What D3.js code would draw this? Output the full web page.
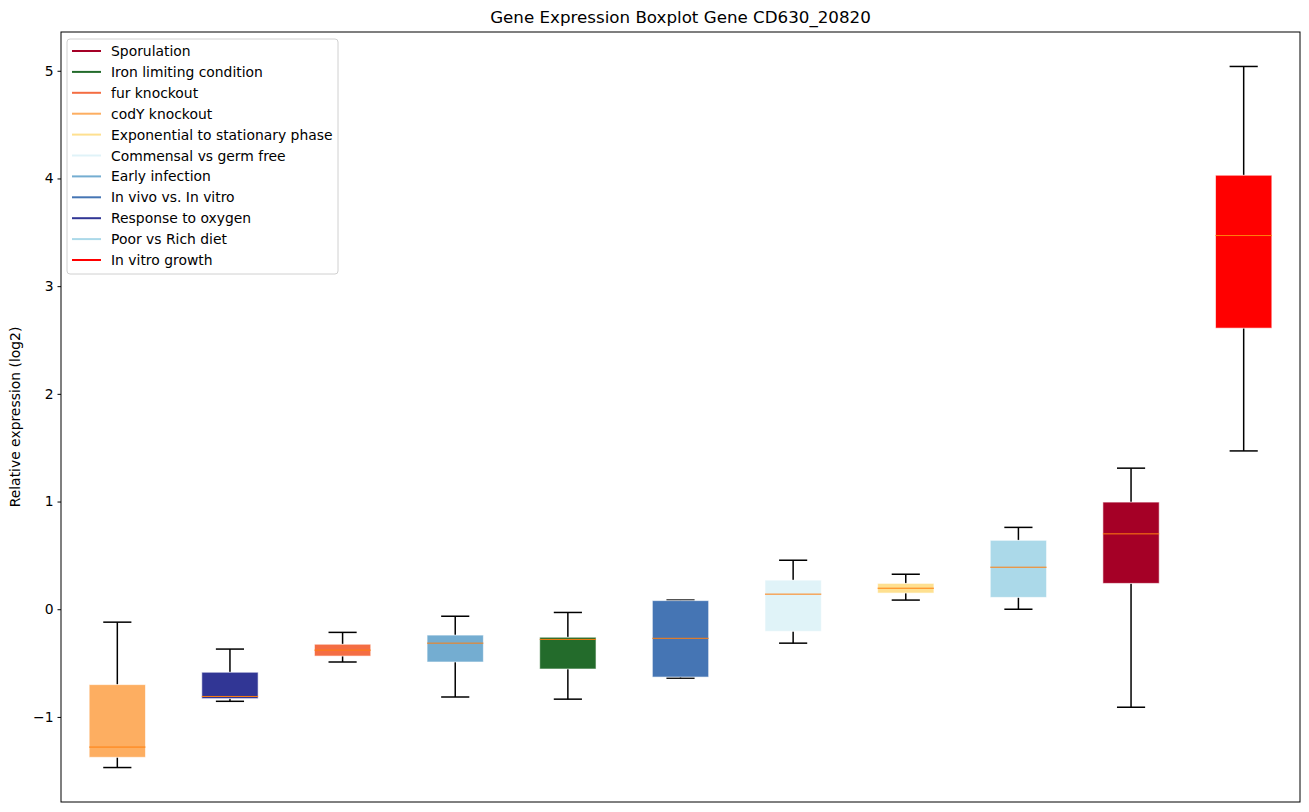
<!DOCTYPE html>
<html>
<head>
<meta charset="utf-8">
<script src="https://cdn.jsdelivr.net/npm/d3@7"></script>
<style>
  body { margin: 0; background: #fff; }
  text { font-family: "DejaVu Sans", sans-serif; }
</style>
</head>
<body>
<div class="chart"></div>
<script>
// box order on the x axis (left to right)
var groups = ["codY knockout", "Response to oxygen", "fur knockout", "Early infection",
  "Iron limiting condition", "In vivo vs. In vitro", "Commensal vs germ free",
  "Exponential to stationary phase", "Poor vs Rich diet", "Sporulation", "In vitro growth"];
var whiskLow  = [-1.47, -0.855, -0.49, -0.815, -0.835, -0.64, -0.315, 0.085, 0.0, -0.91, 1.47];
var q1        = [-1.375, -0.83, -0.435, -0.49, -0.555, -0.63, -0.205, 0.15, 0.11, 0.24, 2.61];
var median    = [-1.28, -0.81, -0.38, -0.315, -0.28, -0.27, 0.14, 0.195, 0.39, 0.70, 3.47];
var q3        = [-0.70, -0.585, -0.325, -0.24, -0.26, 0.08, 0.27, 0.24, 0.64, 0.995, 4.03];
var whiskHigh = [-0.12, -0.37, -0.215, -0.065, -0.03, 0.085, 0.455, 0.325, 0.76, 1.31, 5.04];

// legend order and colours
var legendNames = ["Sporulation", "Iron limiting condition", "fur knockout", "codY knockout",
  "Exponential to stationary phase", "Commensal vs germ free", "Early infection",
  "In vivo vs. In vitro", "Response to oxygen", "Poor vs Rich diet", "In vitro growth"];
var legendColors = ["#a50026", "#236b2b", "#f46d43", "#fdae61", "#fee090", "#e0f3f8",
  "#74add1", "#4575b4", "#313695", "#abd9e9", "#ff0000"];
var yTicks = [-1, 0, 1, 2, 3, 4, 5];

drawChart();

function drawChart(){
    var W = 1309, H = 812;
    var m = {left: 61, right: 9, top: 32, bottom: 10};
    var fs = 13.9;

    var colorOf = d3.scaleOrdinal().domain(legendNames).range(legendColors);

    var x = d3.scaleLinear()
      .domain([0.5, groups.length + 0.5])
      .range([m.left, W - m.right]);
    var y = d3.scaleLinear()
      .domain([-1.79, 5.36])
      .range([H - m.bottom, m.top]);

    var svg = d3.select(".chart").append("svg")
      .attr("width", W).attr("height", H);

    var data = groups.map(function(g, i){
        return {name: g, pos: i + 1, lo: whiskLow[i], q1: q1[i], med: median[i], q3: q3[i], hi: whiskHigh[i]};
    });

    var boxW = x(1.25) - x(1);
    var capW = x(1.125) - x(1);

    var g = svg.selectAll("g.box").data(data).enter().append("g").attr("class", "box");

    // whiskers
    g.append("line")
      .attr("x1", function(d){ return x(d.pos); }).attr("x2", function(d){ return x(d.pos); })
      .attr("y1", function(d){ return y(d.q3); }).attr("y2", function(d){ return y(d.hi); })
      .attr("stroke", "#000").attr("stroke-width", 1.5);
    g.append("line")
      .attr("x1", function(d){ return x(d.pos); }).attr("x2", function(d){ return x(d.pos); })
      .attr("y1", function(d){ return y(d.q1); }).attr("y2", function(d){ return y(d.lo); })
      .attr("stroke", "#000").attr("stroke-width", 1.5);
    // caps
    g.append("line")
      .attr("x1", function(d){ return x(d.pos) - capW; }).attr("x2", function(d){ return x(d.pos) + capW; })
      .attr("y1", function(d){ return y(d.hi); }).attr("y2", function(d){ return y(d.hi); })
      .attr("stroke", "#000").attr("stroke-width", 1.5);
    g.append("line")
      .attr("x1", function(d){ return x(d.pos) - capW; }).attr("x2", function(d){ return x(d.pos) + capW; })
      .attr("y1", function(d){ return y(d.lo); }).attr("y2", function(d){ return y(d.lo); })
      .attr("stroke", "#000").attr("stroke-width", 1.5);

    // boxes
    g.append("rect")
      .attr("x", function(d){ return x(d.pos) - boxW; })
      .attr("width", 2 * boxW)
      .attr("y", function(d){ return y(d.q3); })
      .attr("height", function(d){ return y(d.q1) - y(d.q3); })
      .attr("fill", function(d){ return colorOf(d.name); })
      .attr("stroke", "rgba(255,255,255,0.6)")
      .attr("stroke-width", 1);

    // medians
    g.append("line")
      .attr("x1", function(d){ return x(d.pos) - boxW; }).attr("x2", function(d){ return x(d.pos) + boxW; })
      .attr("y1", function(d){ return y(d.med); }).attr("y2", function(d){ return y(d.med); })
      .attr("stroke", "#ff7f0e").attr("stroke-width", 1);

    // y axis
    var yAxis = d3.axisLeft(y).tickValues(yTicks).tickSize(3.5).tickPadding(4)
      .tickFormat(function(d){ return d < 0 ? "\u2212" + Math.abs(d) : d; });
    var ga = svg.append("g").attr("transform", "translate(" + m.left + ",0)").call(yAxis);
    ga.select(".domain").remove();
    ga.selectAll("text").attr("font-size", fs).attr("fill", "#000")
      .style("font-family", "DejaVu Sans");
    ga.selectAll("line").attr("stroke", "#000");

    // frame
    svg.append("rect")
      .attr("x", m.left).attr("y", m.top)
      .attr("width", W - m.right - m.left).attr("height", H - m.bottom - m.top)
      .attr("fill", "none").attr("stroke", "#000").attr("stroke-width", 1);

    // title & label
    svg.append("text").attr("x", (m.left + W - m.right) / 2).attr("y", 23)
      .attr("text-anchor", "middle").attr("font-size", 16.7).text("Gene Expression Boxplot Gene CD630_20820");
    svg.append("text")
      .attr("transform", "translate(20," + ((m.top + H - m.bottom) / 2) + ") rotate(-90)")
      .attr("text-anchor", "middle").attr("font-size", fs).text("Relative expression (log2)");

    // legend
    var lg = svg.append("g").attr("transform", "translate(67,39)");
    lg.append("rect").attr("width", 271).attr("height", 235).attr("rx", 3)
      .attr("fill", "rgba(255,255,255,0.8)").attr("stroke", "#d0d0d0");
    var item = lg.selectAll("g.item").data(legendNames).enter().append("g")
      .attr("transform", function(d, i){ return "translate(0," + (12 + i * 20.9) + ")"; });
    item.append("line").attr("x1", 5).attr("x2", 34).attr("y1", 0).attr("y2", 0)
      .attr("stroke", function(d){ return colorOf(d); }).attr("stroke-width", 2);
    item.append("text").attr("x", 44).attr("y", 5).attr("font-size", fs).text(function(d){ return d; });
}
</script>
</body>
</html>
